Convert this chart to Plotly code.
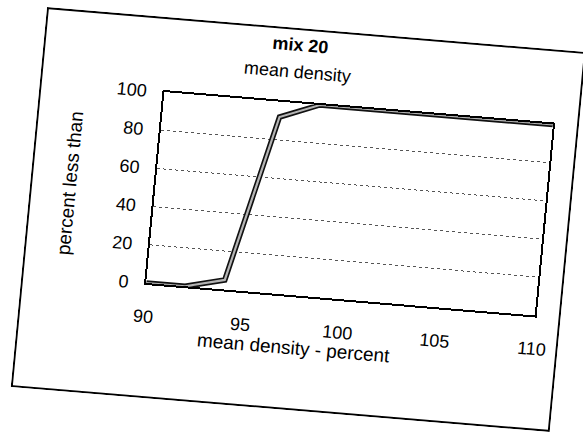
import plotly.graph_objects as go

# Cumulative distribution of mean density for mix 20
density_pct = [90, 92, 94, 96, 98, 100, 102, 104, 106, 108, 110]
percent_less = [0, 0, 5, 92, 100, 100, 100, 100, 100, 100, 100]

x_ticks = [90, 95, 100, 105, 110]
y_ticks = [0, 20, 40, 60, 80, 100]

chart_title = "<b>mix 20</b>"
chart_subtitle = "mean density"
x_title = "mean density - percent"
y_title = "percent less than"

FONT = "Liberation Sans, Arial, sans-serif"
W, H = 541, 382
L, R, T, B = 125, 26, 75, 115
PW, PH = W - L - R, H - T - B

fig = go.Figure()

# dark outline underneath, lighter core on top
fig.add_trace(go.Scatter(
    x=density_pct, y=percent_less, mode="lines",
    line=dict(color="#111111", width=5.5),
    cliponaxis=False, hoverinfo="skip", showlegend=False,
))
fig.add_trace(go.Scatter(
    x=density_pct, y=percent_less, mode="lines",
    line=dict(color="#b4b4b4", width=2.2),
    cliponaxis=False, showlegend=False,
))

axis_common = dict(
    showline=True, linecolor="black", linewidth=2, mirror=True,
    ticks="", zeroline=False,
    tickfont=dict(family=FONT, size=18, color="black"),
)

fig.update_xaxes(
    range=[90, 110], tickvals=x_ticks, showgrid=False,
    ticklabelstandoff=16, **axis_common,
)
fig.update_yaxes(
    range=[0, 100], tickvals=y_ticks,
    showgrid=True, gridcolor="#555555", gridwidth=1, griddash="dot",
    ticklabelstandoff=12, **axis_common,
)

# chart-area border
fig.add_shape(
    type="rect", xref="paper", yref="paper",
    x0=(1 - L) / PW, x1=(W - 1 - L) / PW,
    y0=-(B - 1) / PH, y1=1 + (T - 1) / PH,
    line=dict(color="black", width=2), fillcolor="rgba(0,0,0,0)",
    layer="below",
)

def px_x(u):
    return (u - L) / PW

def px_y(v):
    return (T + PH - v) / PH

fig.add_annotation(text=chart_title, x=px_x(256), y=px_y(17),
                   xref="paper", yref="paper", showarrow=False,
                   xanchor="center", yanchor="middle",
                   font=dict(family=FONT, size=18, color="black"))
fig.add_annotation(text=chart_subtitle, x=px_x(255), y=px_y(44),
                   xref="paper", yref="paper", showarrow=False,
                   xanchor="center", yanchor="middle",
                   font=dict(family=FONT, size=18, color="black"))
fig.add_annotation(text=x_title, x=px_x(278), y=px_y(319),
                   xref="paper", yref="paper", showarrow=False,
                   xanchor="center", yanchor="middle",
                   font=dict(family=FONT, size=19, color="black"))
fig.add_annotation(text=y_title, x=px_x(39), y=px_y(174),
                   xref="paper", yref="paper", showarrow=False,
                   xanchor="center", yanchor="middle", textangle=-90,
                   font=dict(family=FONT, size=19, color="black"))

fig.update_layout(
    width=W, height=H,
    margin=dict(l=L, r=R, t=T, b=B),
    paper_bgcolor="white", plot_bgcolor="white",
    showlegend=False,
)

# the printed page sits slightly skewed on the sheet
tilt_js = (
    "var gd=document.getElementById('{plot_id}');"
    "gd.style.position='absolute';gd.style.left='0px';gd.style.top='0px';"
    "gd.style.transformOrigin='0 0';"
    "gd.style.transform='matrix(0.9963,0.0832,-0.095,0.9948,47,7)';"
)

fig.write_html("out.html", config={"displayModeBar": False}, post_script=tilt_js)
